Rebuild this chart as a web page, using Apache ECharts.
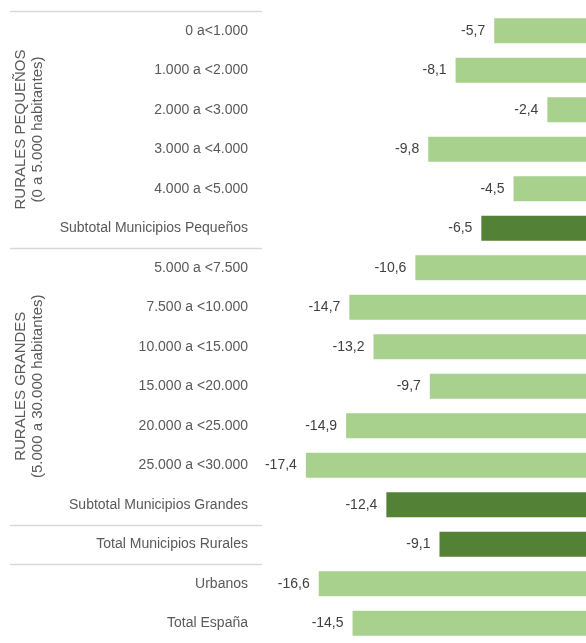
<!DOCTYPE html>
<html>
<head>
<meta charset="utf-8">
<script src="https://cdn.jsdelivr.net/npm/echarts@6/dist/echarts.min.js"></script>
<style>
  html, body { margin: 0; padding: 0; background: #fff; }
  #chart { width: 586px; height: 643px; }
</style>
</head>
<body>
<div id="chart"></div>
<script>
// categorías (de arriba a abajo)
var categories = [
    '0 a<1.000', '1.000 a <2.000', '2.000 a <3.000', '3.000 a <4.000', '4.000 a <5.000',
    'Subtotal Municipios Pequeños',
    '5.000 a <7.500', '7.500 a <10.000', '10.000 a <15.000', '15.000 a <20.000',
    '20.000 a <25.000', '25.000 a <30.000',
    'Subtotal Municipios Grandes',
    'Total Municipios Rurales',
    'Urbanos', 'Total España'
];
// variación (%)
var values = [-5.7, -8.1, -2.4, -9.8, -4.5, -6.5, -10.6, -14.7, -13.2, -9.7, -14.9, -17.4, -12.4, -9.1, -16.6, -14.5];
// 1 = subtotal / total (verde oscuro)
var totals = [0, 0, 0, 0, 0, 1, 0, 0, 0, 0, 0, 0, 1, 1, 0, 0];
// líneas separadoras: después de estas categorías
var separatorsAfter = [5, 12, 13];
// grupos de la etiqueta vertical
var groups = [
    {name: 'RURALES PEQUEÑOS', sub: '(0 a 5.000 habitantes)', from: 0, to: 5},
    {name: 'RURALES GRANDES', sub: '(5.000 a 30.000 habitantes)', from: 6, to: 12}
];

var LIGHT = '#a9d18e', DARK = '#538135', GREY = '#595959';
var FONT = '"Liberation Sans", sans-serif';

var myChart = echarts.init(document.getElementById('chart'));

var seriesData = values.map(function (v, i) {
    return {value: v, itemStyle: {color: totals[i] ? DARK : LIGHT}};
});

var option = {
    animation: false,
    grid: {left: 264, right: 0, top: 11, height: 634, containLabel: false},
    xAxis: {
        type: 'value', min: -20, max: 0,
        show: false
    },
    yAxis: {
        type: 'category',
        inverse: true,
        data: categories,
        axisLine: {show: false},
        axisTick: {show: false},
        axisLabel: {color: GREY, fontSize: 14, fontFamily: FONT, margin: 16}
    },
    series: [{
        type: 'bar',
        data: seriesData,
        barWidth: 25,
        label: {
            show: true,
            position: 'left',
            distance: 9,
            color: '#404040',
            fontSize: 14,
            fontFamily: FONT,
            formatter: function (p) { return p.value.toFixed(1).replace('.', ','); }
        }
    }]
};
myChart.setOption(option);

// separadores y etiquetas de grupo, posicionados con la escala del eje
var graphics = [];
function rowY(i) { return myChart.convertToPixel({yAxisIndex: 0}, categories[i]); }
var band = rowY(1) - rowY(0);
var lineYs = [rowY(0) - band / 2].concat(separatorsAfter.map(function (i) { return (rowY(i) + rowY(i + 1)) / 2; }));
lineYs.forEach(function (y) {
    graphics.push({
        type: 'line',
        shape: {x1: 10, y1: Math.round(y) + 0.5, x2: 262, y2: Math.round(y) + 0.5},
        style: {stroke: '#d9d9d9', lineWidth: 1.5}
    });
});
groups.forEach(function (g) {
    var cy = (rowY(g.from) + rowY(g.to)) / 2;
    [g.name, g.sub].forEach(function (t, k) {
        graphics.push({
            type: 'text',
            x: 21 + k * 17, y: cy,
            rotation: Math.PI / 2,
            style: {
                text: t, fill: GREY, fontSize: 15, fontFamily: FONT,
                align: 'center', verticalAlign: 'middle'
            }
        });
    });
});
myChart.setOption({graphic: graphics});
</script>
</body>
</html>
